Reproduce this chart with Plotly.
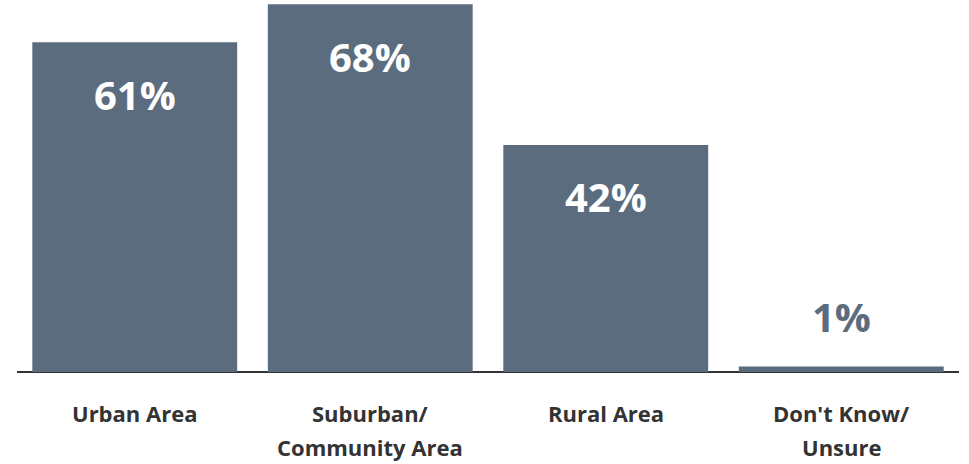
import plotly.graph_objects as go

# Survey responses by area type
categories = ["Urban Area", "Suburban/<br>Community Area", "Rural Area", "Don't Know/<br>Unsure"]
shares = [61, 68, 42, 1]
value_labels = ["61%", "68%", "42%", "1%"]

BAR_COLOR = "#5b6c7e"
TEXT_DARK = "#333333"
FONT = "Open Sans"

x_pos = list(range(len(categories)))

fig = go.Figure(
    go.Bar(
        x=x_pos,
        y=shares,
        marker=dict(color=BAR_COLOR, line=dict(width=0)),
        width=0.87,
        hoverinfo="skip",
    )
)

annotations = []
# Value labels: inside the bar near its top, or above the bar when it is too short
for xi, v, lab in zip(x_pos, shares, value_labels):
    inside = v >= 10
    annotations.append(dict(
        x=xi, y=v, xref="x", yref="y", text=f"<b>{lab}</b>",
        showarrow=False, yanchor="middle",
        yshift=-52 if inside else 50,
        font=dict(family=FONT, size=40, color="white" if inside else BAR_COLOR),
    ))

# Category labels below the axis, one annotation per line for wider line spacing
for xi, cat in zip(x_pos, categories):
    for k, line in enumerate(cat.split("<br>")):
        annotations.append(dict(
            x=xi, y=0, xref="x", yref="paper", text=f"<b>{line}</b>",
            showarrow=False, yanchor="middle", yshift=-41 - 34 * k,
            font=dict(family=FONT, size=22, color=TEXT_DARK),
        ))

fig.update_layout(
    width=969, height=464,
    margin=dict(l=17, r=10, t=0, b=92),
    plot_bgcolor="white", paper_bgcolor="white",
    showlegend=False,
    annotations=annotations,
    xaxis=dict(
        range=[-0.5, 3.5], showticklabels=False, showgrid=False, zeroline=False,
        showline=False, fixedrange=True,
    ),
    yaxis=dict(
        range=[0, 68.8], showticklabels=False, showgrid=False,
        zeroline=True, zerolinecolor=TEXT_DARK, zerolinewidth=2,
        showline=False, fixedrange=True,
    ),
)

fig.write_html("out.html", config={"displayModeBar": False})
